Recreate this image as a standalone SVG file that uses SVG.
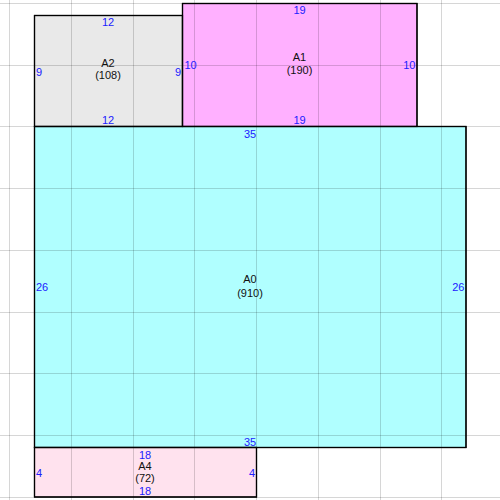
<svg xmlns="http://www.w3.org/2000/svg" width="500" height="500" viewBox="0 0 500 500">
<style>
.room{stroke:#000;stroke-width:1.2}
.grid line{stroke:#000;stroke-opacity:0.16;stroke-width:1}
text{font-family:"Liberation Sans",Arial,sans-serif;font-size:11px}
.dim{fill:#2020ff}
.name{fill:#111;text-anchor:middle}
.mid{text-anchor:middle}
.end{text-anchor:end}
</style>
<rect x="0" y="0" width="500" height="500" fill="#fff"/>
<g id="A2"><rect class="room" x="34.5" y="15.5" width="148" height="111" fill="#e9e9e9"/></g>
<g id="A1"><rect class="room" x="182.5" y="3.5" width="234.5" height="123" fill="#ffb0ff"/></g>
<g id="A0"><rect class="room" x="34.5" y="126.5" width="431.5" height="321" fill="#b0ffff"/></g>
<g id="A4"><rect class="room" x="34.5" y="447.5" width="222" height="49.5" fill="#ffe2ee"/></g>
<g class="grid">
<line x1="9.5" y1="0" x2="9.5" y2="500"/>
<line x1="71.5" y1="0" x2="71.5" y2="500"/>
<line x1="133.5" y1="0" x2="133.5" y2="500"/>
<line x1="194.5" y1="0" x2="194.5" y2="500"/>
<line x1="256.5" y1="0" x2="256.5" y2="500"/>
<line x1="318.5" y1="0" x2="318.5" y2="500"/>
<line x1="380.5" y1="0" x2="380.5" y2="500"/>
<line x1="441.5" y1="0" x2="441.5" y2="500"/>
<line x1="0" y1="3.5" x2="500" y2="3.5"/>
<line x1="0" y1="65.5" x2="500" y2="65.5"/>
<line x1="0" y1="126.5" x2="500" y2="126.5"/>
<line x1="0" y1="188.5" x2="500" y2="188.5"/>
<line x1="0" y1="250.5" x2="500" y2="250.5"/>
<line x1="0" y1="312.5" x2="500" y2="312.5"/>
<line x1="0" y1="373.5" x2="500" y2="373.5"/>
<line x1="0" y1="435.5" x2="500" y2="435.5"/>
<line x1="0" y1="497.5" x2="500" y2="497.5"/>
</g>
<g fill="none" class="room">
<rect x="34.5" y="15.5" width="148" height="111"/>
<rect x="182.5" y="3.5" width="234.5" height="123"/>
<rect x="34.5" y="126.5" width="431.5" height="321"/>
<rect x="34.5" y="447.5" width="222" height="49.5"/>
</g>
<g id="labels-A2">
<text class="dim mid" x="108" y="26">12</text>
<text class="dim mid" x="108" y="124">12</text>
<text class="dim" x="36" y="75.5">9</text>
<text class="dim end" x="181" y="75.5">9</text>
<text class="name" x="108" y="67">A2</text>
<text class="name" x="108" y="79">(108)</text>
</g>
<g id="labels-A1">
<text class="dim mid" x="299.5" y="14">19</text>
<text class="dim mid" x="299.5" y="124">19</text>
<text class="dim" x="184.5" y="69">10</text>
<text class="dim end" x="415.5" y="69">10</text>
<text class="name" x="299.5" y="61">A1</text>
<text class="name" x="299.5" y="74">(190)</text>
</g>
<g id="labels-A0">
<text class="dim mid" x="250" y="138">35</text>
<text class="dim mid" x="250" y="445.5">35</text>
<text class="dim" x="36" y="291">26</text>
<text class="dim end" x="464.5" y="291">26</text>
<text class="name" x="250" y="283">A0</text>
<text class="name" x="250" y="297">(910)</text>
</g>
<g id="labels-A4">
<text class="dim mid" x="145" y="458.5">18</text>
<text class="dim mid" x="145" y="495">18</text>
<text class="dim" x="36" y="477">4</text>
<text class="dim end" x="255" y="477">4</text>
<text class="name" x="145" y="469.5">A4</text>
<text class="name" x="145" y="482">(72)</text>
</g>
</svg>
